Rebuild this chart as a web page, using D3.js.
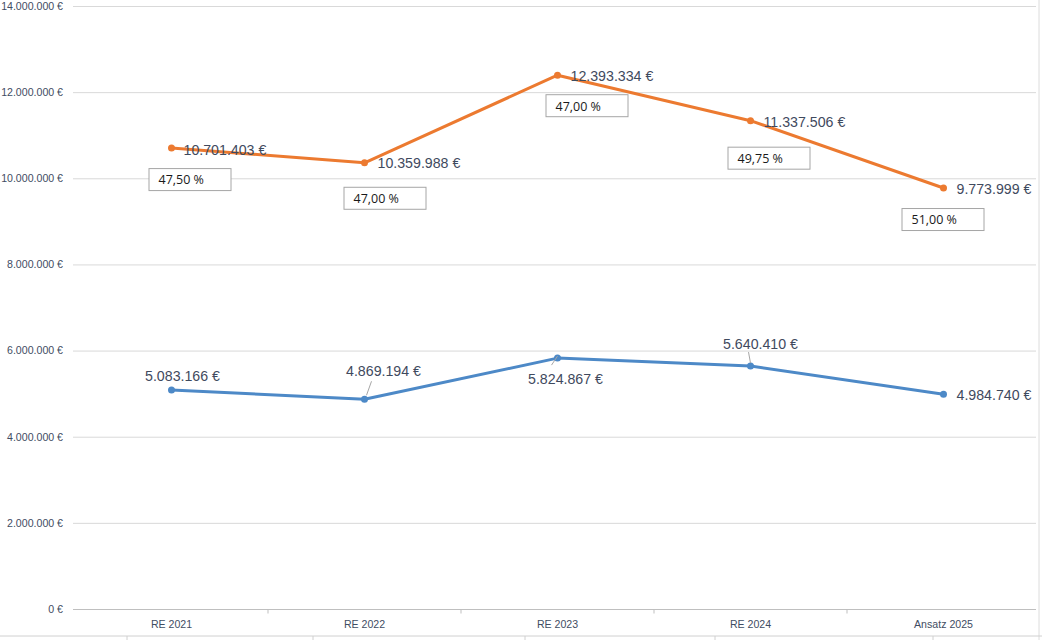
<!DOCTYPE html>
<html><head><meta charset="utf-8">
<script src="https://cdn.jsdelivr.net/npm/d3@7"></script>
<style>body{margin:0;background:#fff;}svg{display:block;}</style>
</head><body>
<svg id="c" width="1042" height="640"></svg>
<script>
// ---- data ----
const categories = ["RE 2021", "RE 2022", "RE 2023", "RE 2024", "Ansatz 2025"];
const seriesOrange = [10701403, 10359988, 12393334, 11337506, 9773999];
const seriesBlue = [5083166, 4869194, 5824867, 5640410, 4984740];
const percentValues = [47.50, 47.00, 47.00, 49.75, 51.00];
const yTicks = [0, 2000000, 4000000, 6000000, 8000000, 10000000, 12000000, 14000000];

// ---- layout (label placement) ----
const orangeLabelOff = [[12,2],[13,0],[13,1],[13,1],[13,1]];
const blueLabelOff = [[11,-14,"middle"],[19,-28,"middle"],[8,21,"middle"],[10,-22,"middle"],[13,1,"start"]];
const blueLeader = [null,[[2,-4],[7,-18]],[[0,-2],[-6,7]],[[0,-3],[-2,-14]],null];
const boxOff = [[-23,20],[-21,24],[-12,19],[-23,26],[-42,20]];

const loc = d3.formatLocale({decimal:",", thousands:".", grouping:[3], currency:["", " €"]});
const fmtEur = v => loc.format(",.0f")(v) + " €";
const fmtPct = v => loc.format(".2f")(v) + " %";

const svg = d3.select("#c");
const mLeft = 75, mRight = 1040, mTop = 6, mBottom = 609;

const x = d3.scaleBand().domain(categories).range([mLeft, mRight]);
const y = d3.scaleLinear().domain([0, 14000000]).range([mBottom, mTop]);
const cx = c => x(c) + x.bandwidth()/2;

// spreadsheet cell borders
svg.append("line").attr("x1",1039).attr("x2",1039).attr("y1",0).attr("y2",640).attr("stroke","#dcdcdc");
svg.append("line").attr("x1",0).attr("x2",1042).attr("y1",636).attr("y2",636).attr("stroke","#d0d0d0");
[127,313,525,715,933].forEach(v=>svg.append("line").attr("x1",v).attr("x2",v).attr("y1",636).attr("y2",640).attr("stroke","#d0d0d0"));

// gridlines
svg.append("g").selectAll("line").data(yTicks.filter(t=>t>0)).join("line")
  .attr("x1", mLeft-2).attr("x2", 1036)
  .attr("y1", d=>y(d)+0.5).attr("y2", d=>y(d)+0.5)
  .attr("stroke", "#d9d9d9");

// y axis labels
const yAxis = d3.axisLeft(y).tickValues(yTicks).tickFormat(fmtEur).tickSize(0).tickPadding(10);
const gy = svg.append("g").attr("transform", `translate(${mLeft-2},0)`).call(yAxis);
gy.select(".domain").remove();
gy.selectAll("text").attr("font-family","Liberation Sans, Arial, sans-serif").attr("font-size","10.6px").attr("fill","#3f4d63");

// x axis
const xAxis = d3.axisBottom(x).tickSize(0).tickPadding(11);
const gx = svg.append("g").attr("transform", `translate(0,${mBottom+0.5})`).call(xAxis);
gx.select(".domain").attr("stroke","#bfbfbf").attr("d", `M${mLeft-2},0H1036`);
gx.selectAll("text").attr("font-family","Liberation Sans, Arial, sans-serif").attr("font-size","10.6px").attr("fill","#3f4d63");
gx.append("g").selectAll("line").data(categories.slice(1)).join("line")
  .attr("x1", d=>x(d)).attr("x2", d=>x(d)).attr("y1",0).attr("y2",4).attr("stroke","#bfbfbf");

// lines
const line = d3.line().x((d,i)=>cx(categories[i])).y(d=>y(d));
function drawSeries(vals, color){
  svg.append("path").datum(vals).attr("d", line).attr("fill","none")
    .attr("stroke", color).attr("stroke-width", 3).attr("stroke-linejoin","round").attr("stroke-linecap","round");
  svg.append("g").selectAll("circle").data(vals).join("circle")
    .attr("cx",(d,i)=>cx(categories[i])).attr("cy",d=>y(d)).attr("r",3.5).attr("fill",color);
}
drawSeries(seriesBlue, "#4d89c7");
drawSeries(seriesOrange, "#ec7a30");

const labelFont = "Liberation Sans, Arial, sans-serif";
const labelColor = "#3f4a5e";

// orange labels
svg.append("g").selectAll("text").data(seriesOrange).join("text")
  .attr("x",(d,i)=>cx(categories[i])+orangeLabelOff[i][0])
  .attr("y",(d,i)=>y(d)+orangeLabelOff[i][1])
  .attr("dy","0.35em")
  .attr("font-family",labelFont).attr("font-size","14.2px").attr("fill",labelColor)
  .text(fmtEur);

// blue leader lines
svg.append("g").selectAll("line").data(seriesBlue.map((d,i)=>({d,i})).filter(o=>blueLeader[o.i])).join("line")
  .attr("x1",o=>cx(categories[o.i])+blueLeader[o.i][0][0]).attr("y1",o=>y(o.d)+blueLeader[o.i][0][1])
  .attr("x2",o=>cx(categories[o.i])+blueLeader[o.i][1][0]).attr("y2",o=>y(o.d)+blueLeader[o.i][1][1])
  .attr("stroke","#a6a6a6").attr("stroke-width",1);

// blue labels
svg.append("g").selectAll("text").data(seriesBlue).join("text")
  .attr("x",(d,i)=>cx(categories[i])+blueLabelOff[i][0])
  .attr("y",(d,i)=>y(d)+blueLabelOff[i][1])
  .attr("dy","0.35em").attr("text-anchor",(d,i)=>blueLabelOff[i][2])
  .attr("font-family",labelFont).attr("font-size","14.2px").attr("fill",labelColor)
  .text(fmtEur);

// percentage boxes
const boxes = svg.append("g").selectAll("g").data(percentValues).join("g")
  .attr("transform",(d,i)=>`translate(${cx(categories[i])+boxOff[i][0]},${y(seriesOrange[i])+boxOff[i][1]})`);
boxes.append("rect").attr("x",0.5).attr("y",0.5).attr("width",82).attr("height",22)
  .attr("fill","#fff").attr("stroke","#a6a6a6").attr("stroke-width",1);
boxes.append("text").attr("x",10).attr("y",12).attr("dy","0.35em")
  .attr("font-family","Open Sans, Liberation Sans, sans-serif").attr("font-weight",500)
  .attr("font-size","12.5px").attr("fill","#1a1a1a").text(fmtPct);
</script>
</body></html>
